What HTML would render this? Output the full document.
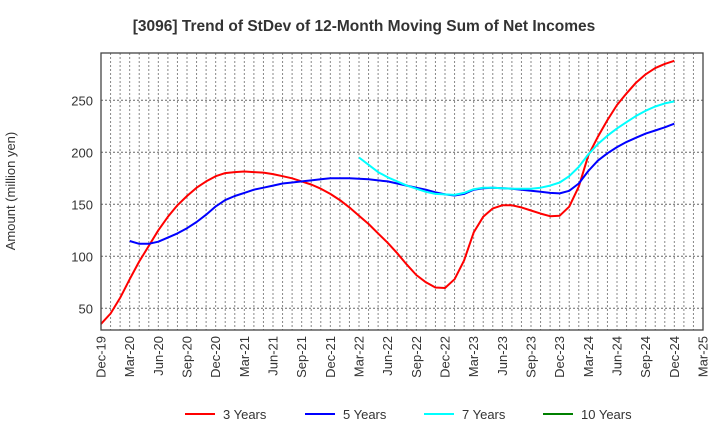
<!DOCTYPE html>
<html><head><meta charset="utf-8"><style>
body{margin:0;background:#fff;font-family:"Liberation Sans",Arial,sans-serif}
svg text{font-family:"Liberation Sans",Arial,sans-serif;fill:#333}
</style></head><body>
<svg id="c" width="720" height="440" xmlns="http://www.w3.org/2000/svg">
<text x="364" y="31" text-anchor="middle" font-size="15.5" font-weight="bold">[3096]  Trend of StDev of 12-Month Moving Sum of Net Incomes</text>
<text transform="translate(15,191) rotate(-90)" text-anchor="middle" font-size="13">Amount (million yen)</text>
<g id="grid"></g><g id="series"></g><g id="axes"></g>
<g>
<line x1="185" y1="414" x2="215" y2="414" stroke="#ff0000" stroke-width="2"/><text x="223" y="419" font-size="13">3 Years</text>
<line x1="305" y1="414" x2="335" y2="414" stroke="#0000ff" stroke-width="2"/><text x="343" y="419" font-size="13">5 Years</text>
<line x1="424" y1="414" x2="454" y2="414" stroke="#00ffff" stroke-width="2"/><text x="462" y="419" font-size="13">7 Years</text>
<line x1="543" y1="414" x2="573" y2="414" stroke="#008000" stroke-width="2"/><text x="581" y="419" font-size="13">10 Years</text>
</g>
</svg>
<script>
const months=["Dec-19","Mar-20","Jun-20","Sep-20","Dec-20","Mar-21","Jun-21","Sep-21","Dec-21","Mar-22","Jun-22","Sep-22","Dec-22","Mar-23","Jun-23","Sep-23","Dec-23","Mar-24","Jun-24","Sep-24","Dec-24","Mar-25"];
const yTicks=[50,100,150,200,250];
// monthly values starting Dec-19 (index 0)
const s3=[35,45,60,78,95,110,125,138,149,158,166,172,177,180,181,181.5,181,180.5,179,177,175,172,169,165,160,154,147,139,131,122,113,103,92,82,75,70,69.5,78,96,123,138,146,149,149,147,144,141,138.5,139,147.7,167,197,215,231,245.5,256.7,267,275,281,285,288];
const s5Start=3;
const s5=[114.7,112,112,114,118,122,127,133,140,148,154,158,161,164,166,168,170,171,172,173,174,175,175,175,174.5,174,173,172,170,168,166,164,161.5,159.5,158.5,160,164,165.5,166,165.5,165,164,163,162,161,160.5,163,170,182,192,199,205,210,214,218,221,224,227.5];
const s7Start=27;
const s7=[195,188,181,176,172,168,165,162,160,159.5,159,161,164.5,166,166,165.5,165,165,165,166,168,171,177,186,198,208,216,223,229,235,240,244,247,249];
const X0=101,X1=703,Y0=330,Y1=53,NM=63,VMIN=29.1,VMAX=295.5;
const xs=i=>X0+(X1-X0)*i/NM, ys=v=>Y0-(v-VMIN)*(Y0-Y1)/(VMAX-VMIN);
const NS="http://www.w3.org/2000/svg";
function mk(p,t,a){const e=document.createElementNS(NS,t);for(const k in a)e.setAttribute(k,a[k]);p.appendChild(e);return e;}
const g=document.getElementById('grid'),ax=document.getElementById('axes'),se=document.getElementById('series');
for(let i=1;i<NM;i++){const l=mk(g,'line',{x1:xs(i),x2:xs(i),y1:Y1,y2:Y0,stroke:'#888','stroke-dasharray':'2,2','stroke-width':1});

}
yTicks.forEach(v=>{const l=mk(g,'line',{x1:X0,x2:X1,y1:ys(v),y2:ys(v),stroke:'#666','stroke-dasharray':'2,2','stroke-width':1});


const t=mk(ax,'text',{x:X0-8,y:ys(v)+5,'text-anchor':'end','font-size':13});t.textContent=v;

});
months.forEach((m,k)=>{const x=xs(k*3);const t=mk(ax,'text',{transform:`translate(${x+4.5},${Y0+6}) rotate(-90)`,'text-anchor':'end','font-size':13});t.textContent=m;

});
const fr=mk(ax,'rect',{x:X0,y:Y1,width:X1-X0,height:Y0-Y1,fill:'none',stroke:'#444','stroke-width':1.3});


function line(arr,start,col,name){const pts=arr.map((v,i)=>xs(start+i).toFixed(1)+','+ys(v).toFixed(1)).join(' ');
const p=mk(se,'polyline',{points:pts,fill:'none',stroke:col,'stroke-width':2,'stroke-linejoin':'round'});

}
line(s3,0,'#ff0000','line-3-years');
line(s5,s5Start,'#0000ff','line-5-years');
line(s7,s7Start,'#00ffff','line-7-years');
</script>
</body></html>
